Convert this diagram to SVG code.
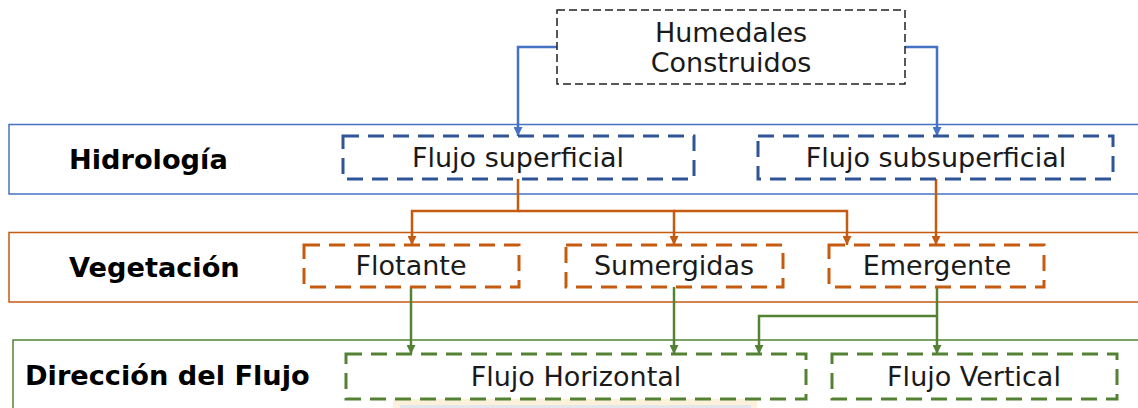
<svg xmlns="http://www.w3.org/2000/svg" width="1138" height="408" viewBox="0 0 1138 408">
<style>
.t{font-family:"DejaVu Sans",Verdana,sans-serif;font-size:27px;fill:#1a1a1a;text-anchor:middle}
.lb{font-family:"DejaVu Sans",Verdana,sans-serif;font-size:27.2px;font-weight:bold;fill:#000}
.band{fill:none;stroke-width:1.5}
.db{fill:#fff;stroke-width:3;stroke-dasharray:16 9}
.c{fill:none;stroke-width:2.5}
</style>
<defs>
<marker id="ab" viewBox="0 0 10 10" refX="10" refY="5" markerWidth="9" markerHeight="9" markerUnits="userSpaceOnUse" orient="auto"><path d="M0,0 L10,5 L0,10 z" fill="#4472C4"/></marker>
<marker id="ao" viewBox="0 0 10 10" refX="10" refY="5" markerWidth="9" markerHeight="9" markerUnits="userSpaceOnUse" orient="auto"><path d="M0,0 L10,5 L0,10 z" fill="#C55A11"/></marker>
<marker id="ag" viewBox="0 0 10 10" refX="10" refY="5" markerWidth="9" markerHeight="9" markerUnits="userSpaceOnUse" orient="auto"><path d="M0,0 L10,5 L0,10 z" fill="#548235"/></marker>
</defs>
<rect width="1138" height="408" fill="#fff"/>
<g id="bands">
<rect class="band" x="9" y="124.5" width="1140" height="69.5" stroke="#4472C4"/>
<rect class="band" x="9" y="232.5" width="1140" height="69.5" stroke="#C55A11"/>
<rect class="band" x="13" y="340" width="1140" height="100" stroke="#548235"/>
</g>
<g id="trace">
<rect x="393" y="399" width="364" height="12" fill="#FDF1DC"/>
<rect x="400" y="405" width="351" height="6" fill="#E3E7EC"/>
</g>
<g id="labels">
<text class="lb" x="69" y="169">Hidrología</text>
<text class="lb" x="69" y="277">Vegetación</text>
<text class="lb" x="25" y="385">Dirección del Flujo</text>
</g>
<g id="connectors">
<path class="c" stroke="#4472C4" d="M557,47 H518 V136" marker-end="url(#ab)"/>
<path class="c" stroke="#4472C4" d="M905,47 H937 V136" marker-end="url(#ab)"/>
<path class="c" stroke="#C55A11" d="M518,179 V211 H412 V245" marker-end="url(#ao)"/>
<path class="c" stroke="#C55A11" d="M518,211 H674 V245" marker-end="url(#ao)"/>
<path class="c" stroke="#C55A11" d="M674,211 H847 V245" marker-end="url(#ao)"/>
<path class="c" stroke="#C55A11" d="M936,179 V245" marker-end="url(#ao)"/>
<path class="c" stroke="#548235" d="M411,287 V354" marker-end="url(#ag)"/>
<path class="c" stroke="#548235" d="M674,287 V354" marker-end="url(#ag)"/>
<path class="c" stroke="#548235" d="M937,287 V354" marker-end="url(#ag)"/>
<path class="c" stroke="#548235" d="M937,316 H759 V354" marker-end="url(#ag)"/>
</g>
<g id="humedales">
<rect x="557" y="10" width="348" height="74" fill="#fff" stroke="#222" stroke-width="1.5" stroke-dasharray="8 4"/>
<text class="t" x="731" y="42">Humedales</text>
<text class="t" x="731" y="72">Construidos</text>
</g>
<g id="flujo-superficial">
<rect class="db" x="343" y="136" width="351" height="43" stroke="#2F5597"/>
<text class="t" x="518" y="167">Flujo superficial</text>
</g>
<g id="flujo-subsuperficial">
<rect class="db" x="758" y="136" width="355" height="43" stroke="#2F5597"/>
<text class="t" x="936" y="167">Flujo subsuperficial</text>
</g>
<g id="flotante">
<rect class="db" x="304" y="245" width="215" height="42" stroke="#C55A11"/>
<text class="t" x="411" y="275">Flotante</text>
</g>
<g id="sumergidas">
<rect class="db" x="566" y="245" width="217" height="42" stroke="#C55A11"/>
<text class="t" x="674" y="275">Sumergidas</text>
</g>
<g id="emergente">
<rect class="db" x="829" y="245" width="215" height="42" stroke="#C55A11"/>
<text class="t" x="937" y="275">Emergente</text>
</g>
<g id="flujo-horizontal">
<rect class="db" x="346" y="354" width="460" height="45" stroke="#548235"/>
<text class="t" x="576" y="386">Flujo Horizontal</text>
</g>
<g id="flujo-vertical">
<rect class="db" x="832" y="354" width="285" height="45" stroke="#548235"/>
<text class="t" x="974" y="386">Flujo Vertical</text>
</g>
</svg>
